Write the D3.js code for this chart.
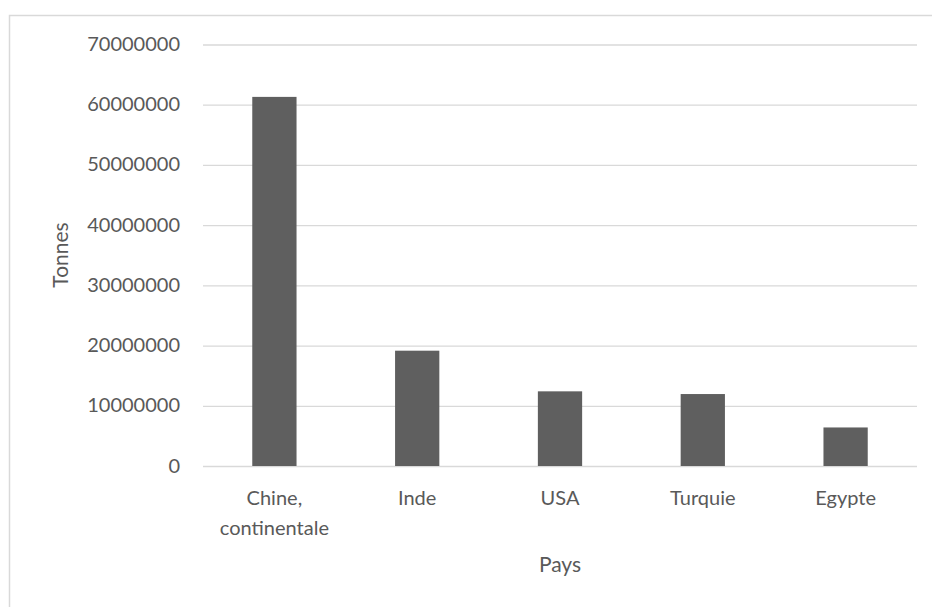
<!DOCTYPE html>
<html>
<head>
<meta charset="utf-8">
<script src="https://cdn.jsdelivr.net/npm/d3@7"></script>
<style>
  body { margin: 0; background: #fff; }
  text { font-family: Lato, "Open Sans", sans-serif; fill: #595959; }
</style>
</head>
<body>
<script>
// data
const countries = ["Chine, continentale", "Inde", "USA", "Turquie", "Egypte"];
const tonnes = [61300000, 19150000, 12400000, 11950000, 6400000];
const yTicks = [0, 10000000, 20000000, 30000000, 40000000, 50000000, 60000000, 70000000];

let width = 932,
    height = 607;

let svg = d3.select("body")
  .append("svg")
  .attr("width", width)
  .attr("height", height);

// chart frame (runs off the right / bottom edge like the crop)
svg.append("rect")
  .attr("x", 9.5)
  .attr("y", 15.5)
  .attr("width", 960)
  .attr("height", 640)
  .attr("fill", "none")
  .attr("stroke", "#d9d9d9")
  .attr("stroke-width", 1.5);

let margin = {left: 203, right: 15, top: 44.5, bottom: 141};

let x = d3.scaleBand()
  .domain(countries)
  .range([margin.left, width - margin.right])
  .paddingInner(0.69)
  .paddingOuter(0.345);

let y = d3.scaleLinear()
  .domain([0, 70000000])
  .range([height - margin.bottom, margin.top]);

// gridlines
let yAxis = svg.append("g")
  .attr("transform", `translate(${margin.left},0)`)
  .call(d3.axisLeft(y)
    .tickValues(yTicks)
    .tickFormat(d3.format("d"))
    .tickSize(-(width - margin.right - margin.left))
    .tickPadding(23));

yAxis.select(".domain").remove();
yAxis.selectAll(".tick line")
  .attr("stroke", "#d9d9d9")
  .attr("stroke-width", 1.3);
yAxis.selectAll(".tick text")
  .attr("font-size", 20)
  .attr("fill", "#595959")
  .attr("font-family", "Lato, 'Open Sans', sans-serif")
  .attr("dy", "0.3em");

// bars
svg.selectAll("rect.bar")
  .data(countries)
  .enter().append("rect")
  .attr("class", "bar")
  .attr("x", d => x(d))
  .attr("width", x.bandwidth())
  .attr("y", (d, i) => y(tonnes[i]))
  .attr("height", (d, i) => y(0) - y(tonnes[i]))
  .attr("fill", "#5f5f5f");

// category labels, Excel-style wrapping on the comma
let xLab = svg.selectAll("text.cat")
  .data(countries)
  .enter().append("text")
  .attr("class", "cat")
  .attr("text-anchor", "middle")
  .attr("font-size", 20)
  .attr("y", 505);

xLab.each(function(d) {
  let parts = d.split(", ");
  let el = d3.select(this);
  parts.forEach((p, i) => {
    el.append("tspan")
      .attr("x", x(d) + x.bandwidth() / 2)
      .attr("dy", i === 0 ? 0 : 30)
      .text(i < parts.length - 1 ? p + "," : p);
  });
});

// axis titles
svg.append("text")
  .attr("text-anchor", "middle")
  .attr("font-size", 21)
  .attr("transform", `translate(68,255) rotate(-90)`)
  .text("Tonnes");

svg.append("text")
  .attr("text-anchor", "middle")
  .attr("font-size", 21)
  .attr("x", (margin.left + width - margin.right) / 2)
  .attr("y", 572)
  .text("Pays");
</script>
</body>
</html>
